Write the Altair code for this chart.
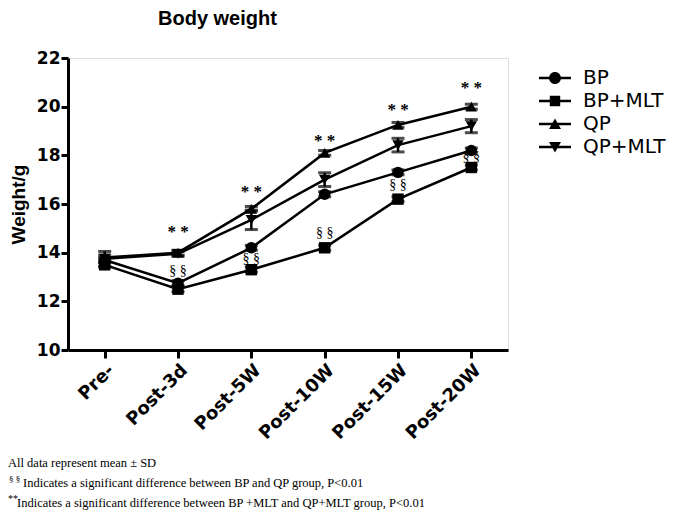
import altair as alt
import pandas as pd

times = ["Pre-", "Post-3d", "Post-5W", "Post-10W", "Post-15W", "Post-20W"]
groups = ["BP", "BP+MLT", "QP", "QP+MLT"]

bp = [13.7, 12.75, 14.2, 16.4, 17.3, 18.2]
bp_mlt = [13.5, 12.5, 13.3, 14.2, 16.2, 17.5]
qp = [13.8, 14.0, 15.8, 18.1, 19.25, 20.0]
qp_mlt = [13.75, 13.95, 15.35, 17.0, 18.42, 19.2]

bp_sd = [0.1, 0.1, 0.1, 0.1, 0.1, 0.1]
bp_mlt_sd = [0.1, 0.1, 0.1, 0.1, 0.1, 0.1]
qp_sd = [0.1, 0.1, 0.1, 0.1, 0.1, 0.1]
qp_mlt_sd = [0.3, 0.1, 0.4, 0.28, 0.28, 0.27]

star_times = ["Post-3d", "Post-5W", "Post-10W", "Post-15W", "Post-20W"]
star_y = [14.85, 16.5, 18.6, 19.85, 20.75]
sect_y = [13.25, 13.75, 14.8, 16.8, 17.95]

shapes_plot = ["circle", "square", "triangle-up", "triangle-down"]
bar = "M-1.6,-0.12H1.6V0.12H-1.6Z"
shapes_legend = [
    bar + "M0.6,0A0.6,0.6,0,1,1,-0.6,0A0.6,0.6,0,1,1,0.6,0Z",
    bar + "M-0.52,-0.52H0.52V0.52H-0.52Z",
    bar + "M0,-0.55L0.6,0.5H-0.6Z",
    bar + "M0,0.55L-0.6,-0.5H0.6Z",
]

foot_lines = [
    "All data represent mean \u00b1 SD",
    "Indicates a significant difference between BP and QP group, P<0.01",
    "Indicates a significant difference between BP +MLT and QP+MLT group, P<0.01",
]

rows = []
for g, vals, sds in zip(groups, [bp, bp_mlt, qp, qp_mlt], [bp_sd, bp_mlt_sd, qp_sd, qp_mlt_sd]):
    for t, v, s in zip(times, vals, sds):
        rows.append({"group": g, "time": t, "weight": v, "lo": v - s, "hi": v + s})
df = pd.DataFrame(rows)
ann = pd.DataFrame({"time": star_times, "star": star_y, "sect": sect_y})

X = alt.X("time:N", sort=times, title=None,
          scale=alt.Scale(type="point", padding=0.5),
          axis=alt.Axis(labelAngle=-45, labelFontSize=18, labelFontWeight="bold",
                        labelFont="DejaVu Sans", labelColor="black",
                        domainColor="black", domainWidth=3,
                        tickColor="black", tickWidth=3, tickSize=8, labelPadding=3))
Y = alt.Y("weight:Q", title="Weight/g",
          scale=alt.Scale(domain=[10, 22], nice=False, zero=False),
          axis=alt.Axis(values=[10, 12, 14, 16, 18, 20, 22], grid=False,
                        labelFontSize=17, labelFontWeight="bold", labelFont="DejaVu Sans",
                        labelColor="black", labelPadding=1,
                        domainColor="black", domainWidth=3, tickColor="black",
                        tickWidth=3, tickSize=7, titleFontSize=19, titleFontWeight="bold",
                        titleFont="Liberation Sans", titleColor="black", titlePadding=8))

base = alt.Chart(df)

lines = base.mark_line(color="black", strokeWidth=2.5).encode(x=X, y=Y, detail="group:N")
err = base.mark_rule(color="black", strokeWidth=2.5).encode(x=X, y="lo:Q", y2="hi:Q")
caps_lo = base.mark_tick(color="black", thickness=3, size=13).encode(x=X, y="lo:Q")
caps_hi = base.mark_tick(color="black", thickness=3, size=13).encode(x=X, y="hi:Q")
pts = base.mark_point(filled=True, color="black", opacity=1, size=130).encode(
    x=X, y=Y,
    shape=alt.Shape("group:N", scale=alt.Scale(domain=groups, range=shapes_plot), legend=None))
leg = base.mark_point(filled=True, color="black", opacity=0).encode(
    x=X, y=Y,
    shape=alt.Shape("group:N", scale=alt.Scale(domain=groups, range=shapes_legend),
                    legend=alt.Legend(title=None, orient="none", legendX=477, legendY=10,
                                      symbolSize=400, symbolOpacity=1,
                                      symbolFillColor="black", symbolStrokeWidth=0,
                                      labelFontSize=20, labelColor="black", labelOffset=18,
                                      rowPadding=3, labelFont="DejaVu Sans")))

stars = alt.Chart(ann).mark_text(font="Liberation Serif", fontSize=17, fontWeight="bold",
                                 color="black", baseline="middle").encode(
    x=alt.X("time:N", sort=times), y=alt.Y("star:Q"), text=alt.value("* *"))
sects = alt.Chart(ann).mark_text(font="Liberation Serif", fontSize=14,
                                 color="black", baseline="middle").encode(
    x=alt.X("time:N", sort=times), y=alt.Y("sect:Q"), text=alt.value("\u00a7 \u00a7"))

fdf = pd.DataFrame({"t": [0]})
def ftext(txt, x, y, size=12.5):
    return alt.Chart(fdf).mark_text(font="Liberation Serif", fontSize=size, align="left",
                                     baseline="middle", color="black").encode(
        x=alt.value(x), y=alt.value(y), text=alt.value(txt))

foot = [
    ftext(foot_lines[0], -60, 405),
    ftext("\u00a7 \u00a7", -59, 421, 9),
    ftext(foot_lines[1], -45, 425),
    ftext("**", -60, 441, 10),
    ftext(foot_lines[2], -51, 445),
]

chart = alt.layer(lines, err, caps_lo, caps_hi, pts, leg, stars, sects, *foot).resolve_scale(
    shape="independent").properties(
    width=440, height=292,
    title=alt.TitleParams("Body weight", anchor="start", dx=150, fontSize=20,
                          font="Liberation Sans", fontWeight="bold", color="black", offset=20),
    autosize=alt.AutoSizeParams(type="none"),
    padding={"left": 60, "top": 50, "right": 169, "bottom": 164},
).configure_view(stroke=None).configure(font="Liberation Sans")

chart.save("out.html", embed_options={"renderer": "svg", "actions": False})
